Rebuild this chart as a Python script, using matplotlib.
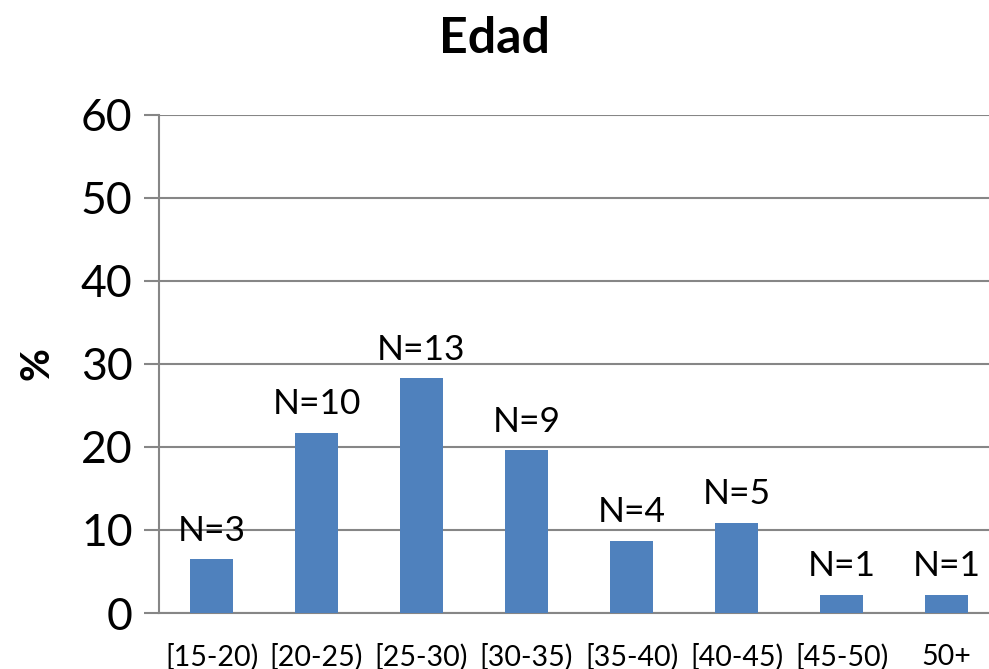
import matplotlib.pyplot as plt
import numpy as np

# datos
categorias = ['[15-20)', '[20-25)', '[25-30)', '[30-35)', '[35-40)', '[40-45)', '[45-50)', '50+']
porcentajes = [6.5, 21.7, 28.3, 19.6, 8.7, 10.9, 2.2, 2.2]
etiquetas_n = ['N=3', 'N=10', 'N=13', 'N=9', 'N=4', 'N=5', 'N=1', 'N=1']
yticks = [0, 10, 20, 30, 40, 50, 60]

plt.rcParams['font.family'] = ['Lato', 'DejaVu Sans']

fig = plt.figure(figsize=(9.89, 6.69), dpi=100)
ax = fig.add_axes([159/989, 56/669, 840/989, 498/669])

index = np.arange(len(categorias))
ax.bar(index, porcentajes, 0.41, color='#4f81bd', zorder=3)

for i, (v, t) in enumerate(zip(porcentajes, etiquetas_n)):
    ax.annotate(t, (i, v), xytext=(0, 9), textcoords='offset points',
                ha='center', va='bottom', fontsize=25.5)

ax.set_xlim(-0.5, 7.5)
ax.set_ylim(0, 60)
ax.set_yticks(yticks)
ax.set_xticks(index)
ax.set_xticklabels(categorias, fontsize=20.5)
ax.tick_params(axis='y', labelsize=32, length=11, width=1.5, color='#868686', pad=8)
ax.tick_params(axis='x', length=0, pad=22)
ax.yaxis.grid(True, color='#868686', linewidth=1.5, zorder=0)

for s in ['top', 'right']:
    ax.spines[s].set_visible(False)
ax.spines['left'].set_color('#868686')
ax.spines['left'].set_linewidth(1.5)
ax.spines['bottom'].set_color('#868686')
ax.spines['bottom'].set_linewidth(1.5)

ax.set_ylabel('%', fontsize=29, fontweight='bold', labelpad=18)
fig.text(0.5, 0.942, 'Edad', ha='center', va='center', fontsize=36, fontweight='bold')

fig.savefig('out.png', dpi=100)
